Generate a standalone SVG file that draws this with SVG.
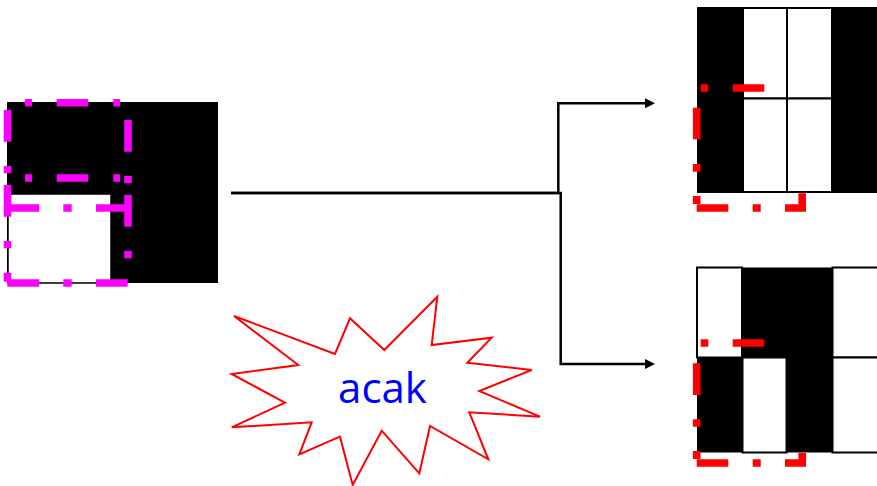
<svg xmlns="http://www.w3.org/2000/svg" width="877" height="486" viewBox="0 0 877 486">
<style>
.blk{fill:#000}
.cell{fill:#fff;stroke:#000;stroke-width:2}
.sel-m{fill:none;stroke:#ff00ff;stroke-width:7.6}
.sel-r{fill:none;stroke:#ff0000;stroke-width:7.6}
.conn{fill:none;stroke:#000;stroke-width:2.5}
.burst{fill:#fff;stroke:#ff0000;stroke-width:2}
.lbl{font-family:"Open Sans","Liberation Sans",sans-serif;font-size:42px;fill:#0000ff}
</style>
<defs>
<marker id="arrow" viewBox="0 0 10 10" refX="2" refY="5" markerWidth="10" markerHeight="10" markerUnits="userSpaceOnUse" orient="auto">
<path d="M0 0 L10 5 L0 10 z" fill="#000"/>
</marker>
</defs>
<rect width="877" height="486" fill="#fff"/>
<g id="source-grid">
<rect class="blk" x="7" y="102" width="211" height="181"/>
<rect x="8" y="194" width="103" height="89" fill="#fff" stroke="#000" stroke-width="1.5"/>
<path class="sel-m" d="M25 102.7H32M56.7 102.7H88.3M113.3 102.7H120M7.5 110V141.7M7.5 166V173.3M7.5 185V216.7M7.5 241V248.3M7.5 272.7V281.7M25 178H32M56.7 178H88.3M113.3 178H120M128 120V151.7M128 176V183.3M128 195V226.7M128 251V258.3M4 208H39.3M63.3 208H71.7M96 208H128.3M7.3 283H39.3M63.3 283H71.7M96 283H127.7"/>
</g>
<g id="connectors">
<path class="conn" d="M231 193H558.3V103.3H647" marker-end="url(#arrow)"/>
<path class="conn" d="M231 193H560.7V364H647" marker-end="url(#arrow)"/>
</g>
<g id="result-top">
<rect class="blk" x="697" y="7" width="182" height="186"/>
<rect class="cell" x="743" y="8" width="44" height="90.5"/>
<rect class="cell" x="787" y="8" width="45" height="90.5"/>
<rect class="cell" x="743" y="98.5" width="44" height="93.5"/>
<rect class="cell" x="787" y="98.5" width="45" height="93.5"/>
<path class="sel-r" d="M700.7 88H708.3M732.7 88H764.3M696.7 107.7V139.3M696.7 164V171.7M696.7 196V204M696.7 208H728.3M752.7 208H760.7M785 208H802.2V193.3"/>
</g>
<g id="result-bottom">
<rect class="blk" x="697" y="267.5" width="182" height="185"/>
<rect class="cell" x="697" y="267.5" width="45" height="90"/>
<rect class="cell" x="832.5" y="267.5" width="50" height="90"/>
<rect class="cell" x="742.5" y="357.5" width="44" height="95"/>
<rect class="cell" x="832.5" y="357.5" width="50" height="95"/>
<path class="sel-r" d="M700.7 343H708.3M732.7 343H764.3M696.7 363.3V395M696.7 419.3V426.7M696.7 451V459M696.7 463H728.3M752.7 463H760.7M785 463H802.2V453"/>
</g>
<g id="random-burst">
<polygon class="burst" points="234,316 335,354 350,318.3 384.3,350 437.3,296.7 431.7,345 491.7,337.7 467.3,362.7 531.7,370 479.3,391 540,416.7 469.3,412.3 488.3,459.3 430,426 419.3,473.3 381.7,430.7 352.7,485 340,436.7 299.3,454.3 311.7,422.3 231.7,427.3 285,402.7 231.7,374 298.3,365"/>
<text class="lbl" x="382.5" y="403" text-anchor="middle">acak</text>
</g>
</svg>
